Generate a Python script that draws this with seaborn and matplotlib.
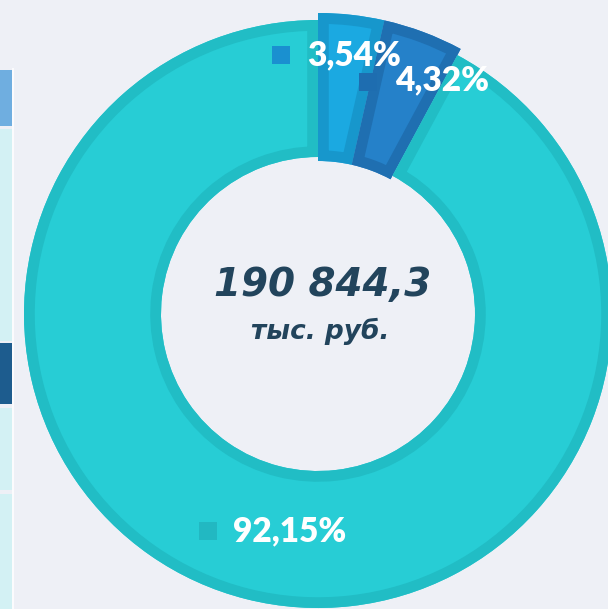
import matplotlib
matplotlib.use("Agg")
import matplotlib.pyplot as plt
from matplotlib.patches import Rectangle, Wedge
import seaborn as sns

# Structure of expenses, share of total (%)
labels = ["3,54%", "4,32%", "92,15%"]
shares = [3.54, 4.32, 92.15]
total_text = "190 844,3"
unit_text = "тыс. руб."

fill_colors = ["#1ba9e1", "#2581c9", "#27cdd5"]
edge_colors = ["#1797cc", "#1f6fb1", "#21bdc5"]
marker_colors = ["#1a90d0", "#1e6db0", "#22b8c2"]

sns.set_theme(style="white")
plt.rcParams["font.family"] = ["DejaVu Sans"]

W, H = 608, 609
fig = plt.figure(figsize=(W / 100, H / 100), dpi=100)
bg = "#eef0f6"
fig.patch.set_facecolor(bg)
ax = fig.add_axes([0, 0, 1, 1])
ax.set_facecolor(bg)

cx, cy = 318, H - 314
R = 294
ring = 137

wedges, _ = ax.pie(
    shares,
    colors=fill_colors,
    startangle=90,
    counterclock=False,
    center=(cx, cy),
    radius=R,
    explode=[0.007, 0.007, 0.0],
    wedgeprops=dict(width=ring, linewidth=0),
    frame=True,
)
ax.set_xlim(0, W)
ax.set_ylim(0, H)
ax.set_aspect("equal")
ax.axis("off")

# the two small segments are highlighted: drawn thicker than the main ring
for w in wedges[:2]:
    w.set_radius(R + 7)
    w.set_width(ring + 11)

# inner border of each segment: a thick outline clipped to a copy of the segment
for w, ec in zip(wedges, edge_colors):
    outline = Wedge(w.center, w.r, w.theta1, w.theta2, width=w.width,
                    facecolor="none", edgecolor=ec, linewidth=15.5, zorder=2)
    ax.add_patch(outline)
    outline.set_clip_on(True)
    outline.set_clip_path(w)

# side panels at the left edge
panels = [(70, 126, "#6faee0"), (129, 341, "#d3f1f4"), (343, 404, "#1d5c8e"),
          (408, 490, "#d3f1f4"), (494, 609, "#d3f1f4")]
for top, bottom, col in panels:
    ax.add_patch(Rectangle((0, H - bottom), 12, bottom - top, facecolor=col,
                           edgecolor="none", zorder=0.5))
ax.add_patch(Rectangle((12, 0), 2, H - 68, facecolor="white", edgecolor="none",
                       alpha=0.8, zorder=0.5))

# percentage labels with colour markers
label_pos = [(307, 55), (395, 80), (233, 531)]
marker_pos = [(281, 55), (368, 82), (208, 531)]
for (mx, my), mc in zip(marker_pos, marker_colors):
    ax.add_patch(Rectangle((mx - 9, H - my - 9), 18, 18, facecolor=mc,
                           edgecolor="none", zorder=3))
for lab, (tx, ty) in zip(labels, label_pos):
    ax.text(tx, H - ty, lab, color="white", fontsize=24, fontweight="heavy",
            family=["Lato", "DejaVu Sans"], ha="left", va="center", zorder=4)

ax.text(323, H - 285, total_text, color="#22445c", fontsize=28,
        fontweight="bold", fontstyle="italic", ha="center", va="center")
ax.text(320, H - 331, unit_text, color="#22445c", fontsize=19,
        fontweight="bold", fontstyle="italic", ha="center", va="center")

fig.savefig("out.png", dpi=100, facecolor=bg)
